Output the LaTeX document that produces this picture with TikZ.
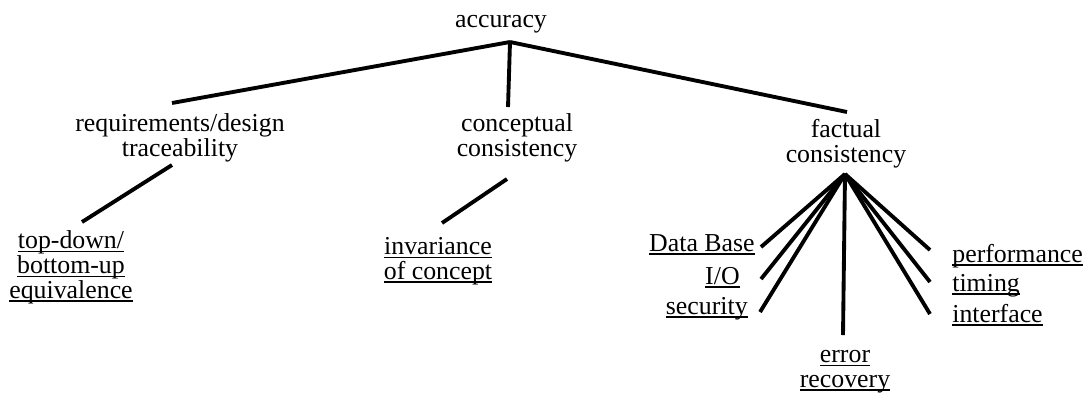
\documentclass[tikz,border=0pt]{standalone}
\usepackage{fontspec}
\setmainfont{Liberation Serif}
\usepackage{tikz}

\newcommand{\uln}[1]{\sbox0{#1}\rlap{\rule[-2.2pt]{\wd0}{0.8pt}}\usebox0}

\tikzset{
  lbl/.style={font=\fontsize{14.7}{14.2}\selectfont, inner sep=0pt, anchor=base, align=center},
  branch/.style={line width=2.2pt}
}

\begin{document}
\begin{tikzpicture}[x=0.02cm, y=-0.02cm]
\useasboundingbox (0,0) rectangle (1087,397);

% Root
\node[lbl] (acc) at (501,27) {accuracy};
\coordinate (acc-j) at (510,42);

% Second level (base = last line)
\node[lbl] (req) at (180,156) {requirements/design\\traceability};
\node[lbl] (con) at (517,156) {conceptual\\consistency};
\node[lbl] (fac) at (846,162) {factual\\consistency};
\coordinate (req-t) at (172,103);
\coordinate (con-t) at (508,107);
\coordinate (fac-t) at (847,112);
\coordinate (req-b) at (172,165);
\coordinate (con-b) at (507,179);
\coordinate (fac-j) at (845,174);

\draw[branch] (acc-j) -- (req-t);
\draw[branch] (acc-j) -- (con-t);
\draw[branch] (acc-j) -- (fac-t);

% Leaves under traceability and conceptual consistency
\node[lbl] (tdb) at (71,298) {\uln{top-down/}\\\uln{bottom-up}\\\uln{equivalence}};
\node[lbl] (inv) at (438,279) {\uln{invariance}\\\uln{of concept}};
\coordinate (tdb-t) at (82,222);
\coordinate (inv-t) at (442,223);
\draw[branch] (req-b) -- (tdb-t);
\draw[branch] (con-b) -- (inv-t);

% Leaves under factual consistency
\node[lbl, anchor=base east] (db) at (755,251) {\uln{Data Base}};
\node[lbl, anchor=base east] (io) at (740,284) {\uln{I/O}};
\node[lbl, anchor=base east] (sec) at (748,314) {\uln{security}};
\node[lbl] (err) at (845,387) {\uln{error}\\\uln{recovery}};
\node[lbl, anchor=base west] (perf) at (952,262) {\uln{performance}};
\node[lbl, anchor=base west] (tim) at (952,291) {\uln{timing}};
\node[lbl, anchor=base west] (intf) at (952,322) {\uln{interface}};

\coordinate (db-e) at (761,247);
\coordinate (io-e) at (761,279);
\coordinate (sec-e) at (760,312);
\coordinate (err-e) at (843,335);
\coordinate (perf-w) at (930,250);
\coordinate (tim-w) at (930,282);
\coordinate (intf-w) at (930,314);

\foreach \leaf in {db-e, io-e, sec-e, err-e, perf-w, tim-w, intf-w}
  \draw[branch] (fac-j) -- (\leaf);
\end{tikzpicture}
\end{document}
